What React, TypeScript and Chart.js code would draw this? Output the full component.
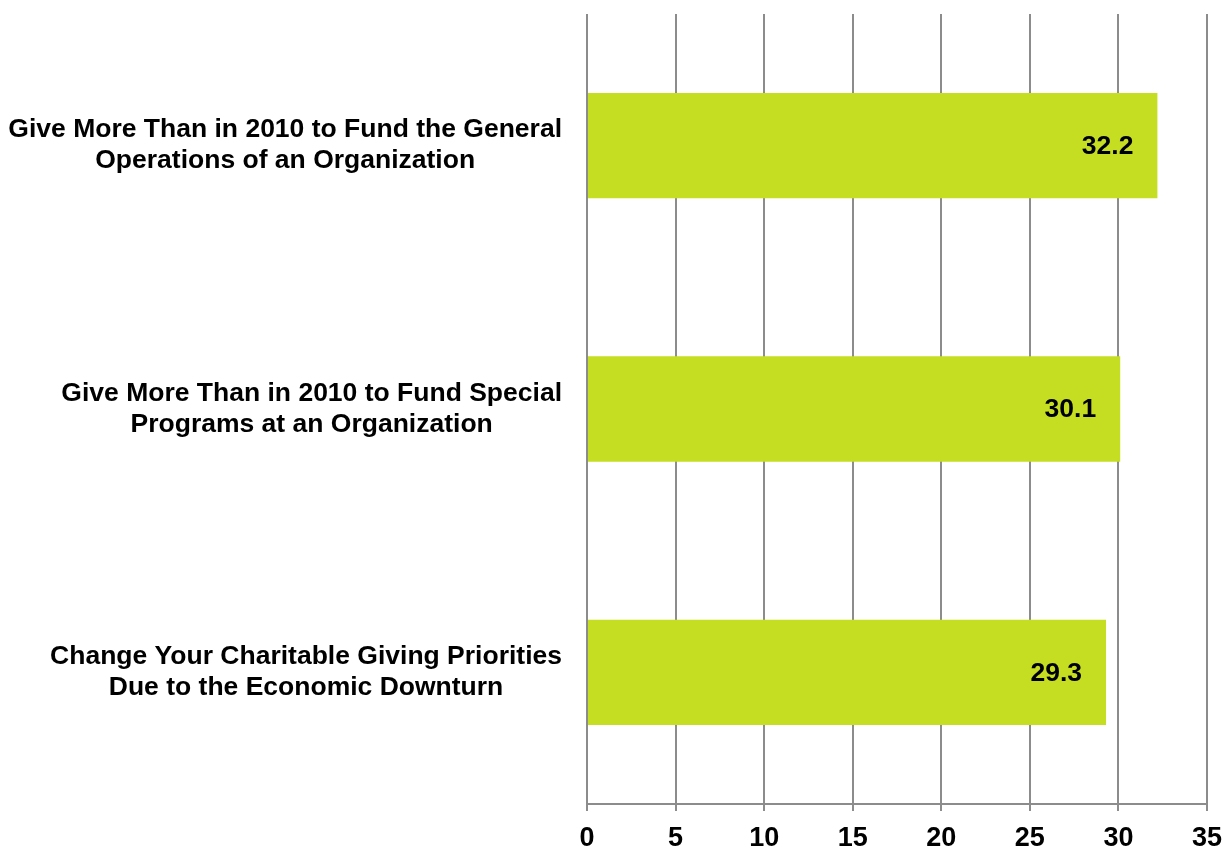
import React, { useEffect, useRef } from "react";
import { Chart, registerables } from "chart.js";

Chart.register(...registerables);

const categories: string[][] = [
  ["Give More Than in 2010 to Fund the General", "Operations of an Organization"],
  ["Give More Than in 2010 to Fund Special", "Programs at an Organization"],
  ["Change Your Charitable Giving Priorities", "Due to the Economic Downturn"],
];
const values: number[] = [32.2, 30.1, 29.3];
const xMin = 0;
const xMax = 35;
const xStep = 5;

const FONT = '"Liberation Sans", Arial, Helvetica, sans-serif';
const BAR_COLOR = "rgb(197,222,34)";
const GRID_COLOR = "#8c8c8c";

const categoryLabelPlugin = {
  id: "categoryLabels",
  afterDraw(chart: any) {
    const ctx = chart.ctx;
    const yScale = chart.scales.y;
    const rightEdge = chart.chartArea.left - 25;
    ctx.save();
    ctx.font = `bold 26.5px ${FONT}`;
    ctx.fillStyle = "#000";
    ctx.textAlign = "center";
    ctx.textBaseline = "middle";
    const lineH = 31;
    categories.forEach((lines, i) => {
      const cy = yScale.getPixelForValue(i);
      const widest = Math.max(...lines.map((l) => ctx.measureText(l).width));
      const cx = rightEdge - widest / 2;
      const startY = cy - ((lines.length - 1) * lineH) / 2;
      lines.forEach((l, j) => ctx.fillText(l, cx, startY + j * lineH));
    });
    ctx.restore();
  },
};

const valueLabelPlugin = {
  id: "valueLabels",
  afterDatasetsDraw(chart: any) {
    const ctx = chart.ctx;
    const meta = chart.getDatasetMeta(0);
    ctx.save();
    ctx.font = `bold 26.5px ${FONT}`;
    ctx.fillStyle = "#000";
    ctx.textAlign = "right";
    ctx.textBaseline = "middle";
    meta.data.forEach((bar: any, i: number) => {
      ctx.fillText(values[i].toFixed(1), bar.x - 24, bar.y + 1);
    });
    ctx.restore();
  },
};

export default function App() {
  const canvasRef = useRef<HTMLCanvasElement>(null);

  useEffect(() => {
    document.body.style.margin = "0";
    const canvas = canvasRef.current;
    if (!canvas) return;
    const chart = new Chart(canvas, {
      type: "bar",
      data: {
        labels: categories.map((c) => c.join(" ")),
        datasets: [
          {
            data: values,
            backgroundColor: BAR_COLOR,
            borderWidth: 0,
            barPercentage: 0.4,
            categoryPercentage: 1,
          },
        ],
      },
      options: {
        indexAxis: "y",
        animation: false,
        responsive: true,
        maintainAspectRatio: false,
        layout: { padding: { top: 14, right: 18, left: 0, bottom: 0 } },
        plugins: {
          legend: { display: false },
          tooltip: { enabled: false },
          title: { display: false },
        },
        scales: {
          x: {
            min: xMin,
            max: xMax,
            ticks: {
              stepSize: xStep,
              color: "#000",
              font: { family: FONT, size: 27, weight: "bold" },
              padding: 11,
              maxRotation: 0,
            },
            grid: {
              color: GRID_COLOR,
              lineWidth: 2,
              drawTicks: true,
              tickLength: 7,
            },
            border: { display: true, color: GRID_COLOR, width: 2 },
            afterFit: (scale: any) => {
              scale.height = 42;
              scale.paddingLeft = 0;
              scale.paddingRight = 0;
            },
          },
          y: {
            ticks: { display: false },
            grid: { display: false },
            border: { display: false },
            afterFit: (scale: any) => {
              scale.width = 587;
              scale.paddingTop = 0;
              scale.paddingBottom = 0;
            },
          },
        },
      },
      plugins: [categoryLabelPlugin, valueLabelPlugin],
    });
    return () => chart.destroy();
  }, []);

  return (
    <div style={{ width: "1225px", height: "846px", position: "relative" }}>
      <canvas ref={canvasRef} />
    </div>
  );
}
